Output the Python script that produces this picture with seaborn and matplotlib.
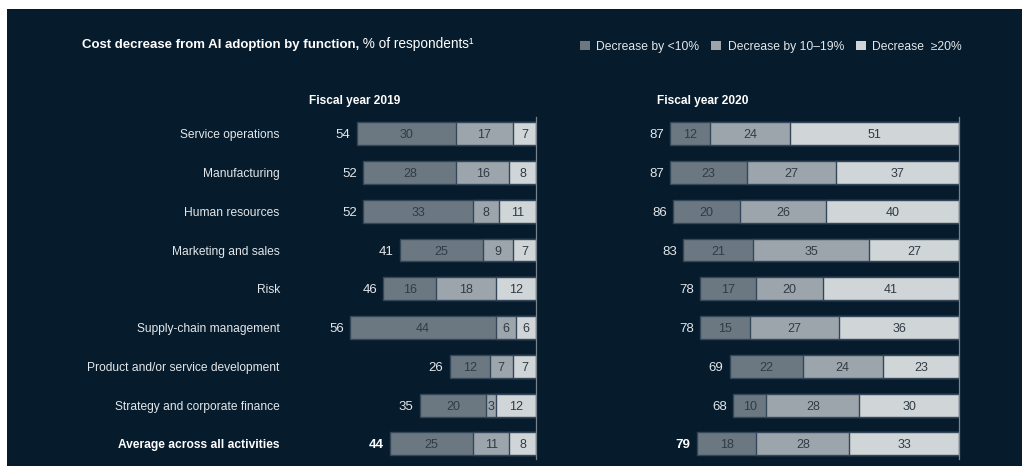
import matplotlib
matplotlib.use("Agg")
import matplotlib.pyplot as plt
from matplotlib.patches import Patch, Rectangle
import pandas as pd
import seaborn as sns

# --- data -------------------------------------------------------------
categories = [
    "Service operations",
    "Manufacturing",
    "Human resources",
    "Marketing and sales",
    "Risk",
    "Supply-chain management",
    "Product and/or service development",
    "Strategy and corporate finance",
    "Average across all activities",
]
series_labels = ["Decrease by <10%", "Decrease by 10\u201319%", "Decrease  \u226520%"]

fy2019_low = [30, 28, 33, 25, 16, 44, 12, 20, 25]
fy2019_mid = [17, 16, 8, 9, 18, 6, 7, 3, 11]
fy2019_high = [7, 8, 11, 7, 12, 6, 7, 12, 8]
fy2019_total = [54, 52, 52, 41, 46, 56, 26, 35, 44]

fy2020_low = [12, 23, 20, 21, 17, 15, 22, 10, 18]
fy2020_mid = [24, 27, 26, 35, 20, 27, 24, 28, 28]
fy2020_high = [51, 37, 40, 27, 41, 36, 23, 30, 33]
fy2020_total = [87, 87, 86, 83, 78, 78, 69, 68, 79]

# --- style ------------------------------------------------------------
BG = "#061b2c"
C_LOW = "#6b7881"
C_MID = "#9ca5ac"
C_HIGH = "#d0d5d8"
EDGE = "#34475a"
TXT = "#e3e7ea"
TXT_DARK = "#303b45"
SPINE = "#76838d"

sns.set_theme(style="dark")
plt.rcParams["font.family"] = ["Liberation Sans", "DejaVu Sans"]

W, H = 1022, 466
fig = plt.figure(figsize=(W / 100, H / 100), dpi=100, facecolor=BG)
# white margin strips along the top and left edges
fig.patches.append(Rectangle((0, 1 - 9 / H), 1, 9 / H, transform=fig.transFigure,
                             facecolor="white", edgecolor="none", zorder=0))
fig.patches.append(Rectangle((0, 0), 7 / W, 1, transform=fig.transFigure,
                             facecolor="white", edgecolor="none", zorder=0))

PX_PER_UNIT = 3.32
TOP, BOTTOM = 117, 459
BAR_H = 0.59


def add_panel(left_px, right_px):
    ax = fig.add_axes([left_px / W, 1 - BOTTOM / H, (right_px - left_px) / W, (BOTTOM - TOP) / H])
    ax.set_facecolor("none")
    return ax, (right_px - left_px) / PX_PER_UNIT


def draw_panel(ax, span, low, mid, high, total, show_labels):
    df = pd.DataFrame({
        "category": categories,
        "total": total,
        "mid_high": [m + h for m, h in zip(mid, high)],
        "high": high,
    })
    # stacked bars anchored at the right edge: draw cumulative lengths, longest first
    for col, color in [("total", C_LOW), ("mid_high", C_MID), ("high", C_HIGH)]:
        sns.barplot(data=df, x=col, y="category", orient="h", color=color,
                    saturation=1, width=BAR_H, edgecolor=EDGE, linewidth=1.0, ax=ax)

    for i in range(len(categories)):
        ax.text(high[i] / 2, i, str(high[i]), ha="center", va="center_baseline",
                color=TXT_DARK, fontsize=9)
        ax.text(high[i] + mid[i] / 2, i, str(mid[i]), ha="center", va="center_baseline",
                color=TXT_DARK, fontsize=9)
        ax.text(high[i] + mid[i] + low[i] / 2, i, str(low[i]), ha="center",
                va="center_baseline", color=TXT_DARK, fontsize=9)
        last = i == len(categories) - 1
        ax.text(total[i] + 1.9, i, str(total[i]), ha="right", va="center_baseline",
                color="white" if last else TXT, fontsize=9.5,
                fontweight="bold" if last else "normal")

    ax.set_xlim(span, 0)
    ax.set_ylim(len(categories) - 1 + 0.39, -0.43)
    ax.set_xlabel("")
    ax.set_ylabel("")
    ax.set_xticks([])
    ax.tick_params(axis="y", length=0, pad=4.5)
    if show_labels:
        ax.set_yticks(range(len(categories)))
        ax.set_yticklabels(categories, color=TXT, fontsize=8.65)
        ax.get_yticklabels()[-1].set_fontweight("bold")
        ax.get_yticklabels()[-1].set_color("white")
    else:
        ax.set_yticks([])
    for side in ("left", "top", "bottom"):
        ax.spines[side].set_visible(False)
    ax.spines["right"].set_visible(True)
    ax.spines["right"].set_color(SPINE)
    ax.spines["right"].set_linewidth(0.9)


ax19, span19 = add_panel(286, 536)
ax20, span20 = add_panel(640, 959)
draw_panel(ax19, span19, fy2019_low, fy2019_mid, fy2019_high, fy2019_total, True)
draw_panel(ax20, span20, fy2020_low, fy2020_mid, fy2020_high, fy2020_total, False)

fig.text(309 / W, 1 - 101 / H, "Fiscal year 2019", color="white", fontsize=8.6,
         fontweight="bold", ha="left", va="center")
fig.text(657 / W, 1 - 101 / H, "Fiscal year 2020", color="white", fontsize=8.6,
         fontweight="bold", ha="left", va="center")

# title: bold lead-in followed by regular unit text
t1 = fig.text(82 / W, 1 - 45 / H, "Cost decrease from AI adoption by function,",
              color="white", fontsize=9.55, fontweight="bold", ha="left", va="center")
ax19.annotate(" % of respondents\u00b9", xy=(1, 0), xycoords=t1, ha="left", va="bottom",
              color="white", fontsize=9.8, annotation_clip=False)

handles = [Patch(facecolor=c, edgecolor="none") for c in (C_LOW, C_MID, C_HIGH)]
fig.legend(handles, series_labels, loc="center right",
           bbox_to_anchor=(962 / W, 1 - 47 / H), ncol=3, frameon=False,
           fontsize=8.7, labelcolor=TXT, handlelength=0.8, handleheight=0.8,
           handletextpad=0.55, columnspacing=1.0, borderaxespad=0, borderpad=0)

fig.savefig("out.png", dpi=100, facecolor=fig.get_facecolor())
